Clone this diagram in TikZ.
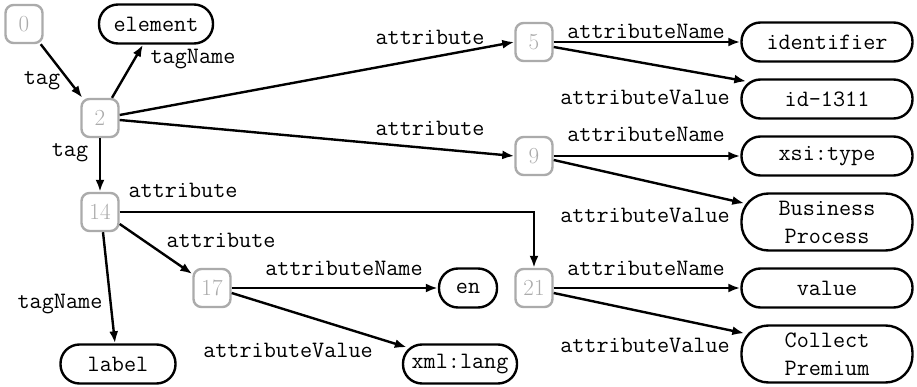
\documentclass[tikz,border=0pt]{standalone}
\usetikzlibrary{arrows.meta}
\begin{document}
\begin{tikzpicture}[x=1pt,y=-1pt,
  every node/.style={font=\fontsize{23.5}{28}\selectfont},
  idnode/.style={draw=black!33, text=black!33, line width=2.4pt, rounded corners=8pt,
     minimum width=37pt, minimum height=38pt, inner sep=0pt,
     font=\fontsize{23}{28}\selectfont\rmfamily},
  val/.style={draw=black, line width=2.4pt, rounded corners=19pt, minimum height=39pt,
     inner sep=0pt, font=\fontsize{23.5}{28}\selectfont\ttfamily},
  val2/.style={val, rounded corners=27pt, minimum height=57pt, align=center},
  lbl/.style={inner sep=0pt, font=\fontsize{23.5}{28}\selectfont\ttfamily},
  edge/.style={line width=2.4pt, -{Latex[length=12pt,width=9pt]}}
]
\useasboundingbox (0,0) rectangle (917,387);

% id nodes
\node[idnode] (n0) at (24,24) {0};
\node[idnode] (n2) at (100,118) {2};
\node[idnode] (n14) at (100,212) {14};
\node[idnode] (n17) at (212,288) {17};
\node[idnode] (n5) at (534,42) {5};
\node[idnode] (n9) at (534,156) {9};
\node[idnode] (n21) at (534,288) {21};

% value nodes
\node[val, minimum width=114pt] (el) at (156,24) {element};
\node[val, minimum width=115pt] (lab) at (118,364) {label};
\node[val, minimum width=58pt] (en) at (468,288) {en};
\node[val, minimum width=114pt] (xml) at (460,364) {xml:lang};
\node[val, minimum width=171pt] (ident) at (827,42) {identifier};
\node[val, minimum width=171pt] (id) at (827,99) {id-1311};
\node[val, minimum width=171pt] (xsi) at (827,156) {xsi:type};
\node[val2, minimum width=171pt] (bp) at (827,222) {Business\\Process};
\node[val, minimum width=171pt] (value) at (827,288) {value};
\node[val2, minimum width=171pt] (cp) at (827,354) {Collect\\Premium};

% edges
\draw[edge] ([xshift=-3pt]n0.south east) -- ([xshift=2pt]n2.north west);
\draw[edge] ([xshift=12pt]n2.north) -- ([xshift=-13pt]el.south);
\draw[edge] ([yshift=3pt]n2.east) -- (n5.west);
\draw[edge] ([yshift=-2pt]n2.east) -- (n9.west);
\draw[edge] (n2.south) -- (n14.north);
\draw[edge] (n14.east) -| (n21.north);
\draw[edge] ([yshift=-12pt]n14.east) -- ([yshift=14pt]n17.west);
\draw[edge] ([xshift=3pt]n14.south) -- ([xshift=-3pt]lab.north);
\draw[edge] (n17.east) -- (en.west);
\draw[edge] ([yshift=-5pt]n17.east) -- ([xshift=5pt,yshift=-4pt]xml.north west);
\draw[edge] (n5.east) -- (ident.west);
\draw[edge] ([yshift=-5pt]n5.east) -- ([xshift=6pt,yshift=-3pt]id.north west);
\draw[edge] (n9.east) -- (xsi.west);
\draw[edge] ([yshift=-4pt]n9.east) -- ([xshift=4pt,yshift=-11pt]bp.north west);
\draw[edge] (n21.east) -- (value.west);
\draw[edge] ([yshift=-5pt]n21.east) -- ([xshift=4pt,yshift=-9pt]cp.north west);

% labels
\node[lbl] (l1) at (42,81) {tag};
\node[lbl] (l2) at (193,59) {tagName};
\node[lbl] (l3) at (70,153) {tag};
\node[lbl] (l4) at (430,37) {attribute};
\node[lbl] (l5) at (430,128) {attribute};
\node[lbl] (l6) at (183,190) {attribute};
\node[lbl] (l7) at (221,240) {attribute};
\node[lbl] (l8) at (60,304) {tagName};
\node[lbl] (l9) at (344,268) {attributeName};
\node[lbl] (l10) at (288,350) {attributeValue};
\node[lbl] (l11) at (646,31) {attributeName};
\node[lbl] (l12) at (645,97) {attributeValue};
\node[lbl] (l13) at (646,134) {attributeName};
\node[lbl] (l14) at (645,215) {attributeValue};
\node[lbl] (l15) at (646,268) {attributeName};
\node[lbl] (l16) at (645,345) {attributeValue};
\end{tikzpicture}
\end{document}
